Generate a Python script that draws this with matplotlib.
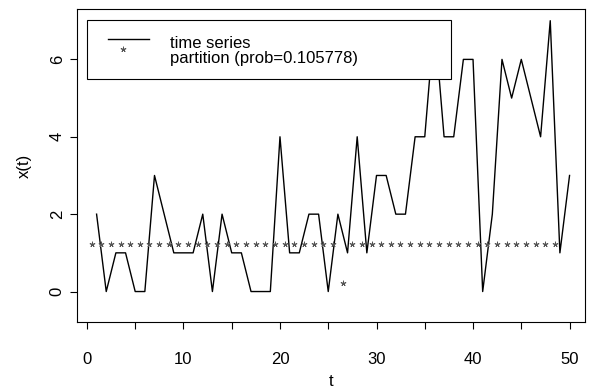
import numpy as np
import matplotlib.pyplot as plt
from matplotlib.transforms import ScaledTranslation
from matplotlib.patches import Rectangle
from matplotlib.lines import Line2D

# dados
t = np.arange(1, 51)
x_serie = [2, 0, 1, 1, 0, 0, 3, 2, 1, 1,
           1, 2, 0, 2, 1, 1, 0, 0, 0, 4,
           1, 1, 2, 2, 0, 2, 1, 4, 1, 3,
           3, 2, 2, 4, 4, 7, 4, 4, 6, 6,
           0, 2, 6, 5, 6, 5, 4, 7, 1, 3]
t_part = np.arange(1, 50)
particao = [1] * 26 + [0] + [1] * 22
prob = 0.105778

xticks = [0, 5, 10, 15, 20, 25, 30, 35, 40, 45, 50]
xlabels = ['0', '', '10', '', '20', '', '30', '', '40', '', '50']
yticks = [0, 2, 4, 6]

plt.rcParams['font.family'] = ['Liberation Sans', 'DejaVu Sans']
plt.rcParams['font.size'] = 12

fig = plt.figure(figsize=(5.89, 3.92), dpi=100)
ax = fig.add_axes([0.1312, 0.1793, 0.8620, 0.7965])

ax.plot(t, x_serie, color='black', lw=1.0, solid_joinstyle='round')

# o '*' do R fica deslocado do centro do ponto
desloc = ScaledTranslation(-0.05, 0.09, fig.dpi_scale_trans)
ax.plot(t_part, particao, linestyle='none', marker=(5, 2, 0), ms=4, mew=0.6,
        color='#555555', transform=ax.transData + desloc)

ax.set_xlim(-1.0, 51.6)
ax.set_ylim(-0.78, 7.29)
ax.set_xticks(xticks)
ax.set_xticklabels(xlabels)
ax.set_yticks(yticks)
ax.set_yticklabels([str(v) for v in yticks], rotation=90, va='center')
ax.tick_params(axis='x', length=5, width=0.8, pad=16.5)
ax.tick_params(axis='y', length=5, width=0.8, pad=4)
for s in ax.spines.values():
    s.set_linewidth(0.8)

ax.set_xlabel('t', labelpad=5)
ax.set_ylabel('x(t)', labelpad=13)

# legenda desenhada a mao, como no R
ax.add_patch(Rectangle((0.0185, 0.777), 0.7175, 0.188, transform=ax.transAxes,
                       facecolor='white', edgecolor='black', lw=0.8, zorder=5))
ax.add_line(Line2D([0.0605, 0.141], [0.9055, 0.9055], transform=ax.transAxes,
                   color='black', lw=1.0, zorder=6))
ax.plot([0.1008], [0.8446], linestyle='none', marker=(5, 2, 0), ms=4, mew=0.6,
        color='#555555', transform=ax.transAxes + desloc, zorder=6)
ax.text(0.1826, 0.8757, 'time series', transform=ax.transAxes, va='baseline', zorder=6)
ax.text(0.1826, 0.8277, f'partition (prob={prob})', transform=ax.transAxes,
        va='baseline', zorder=6)

fig.savefig('out.png', dpi=100)
